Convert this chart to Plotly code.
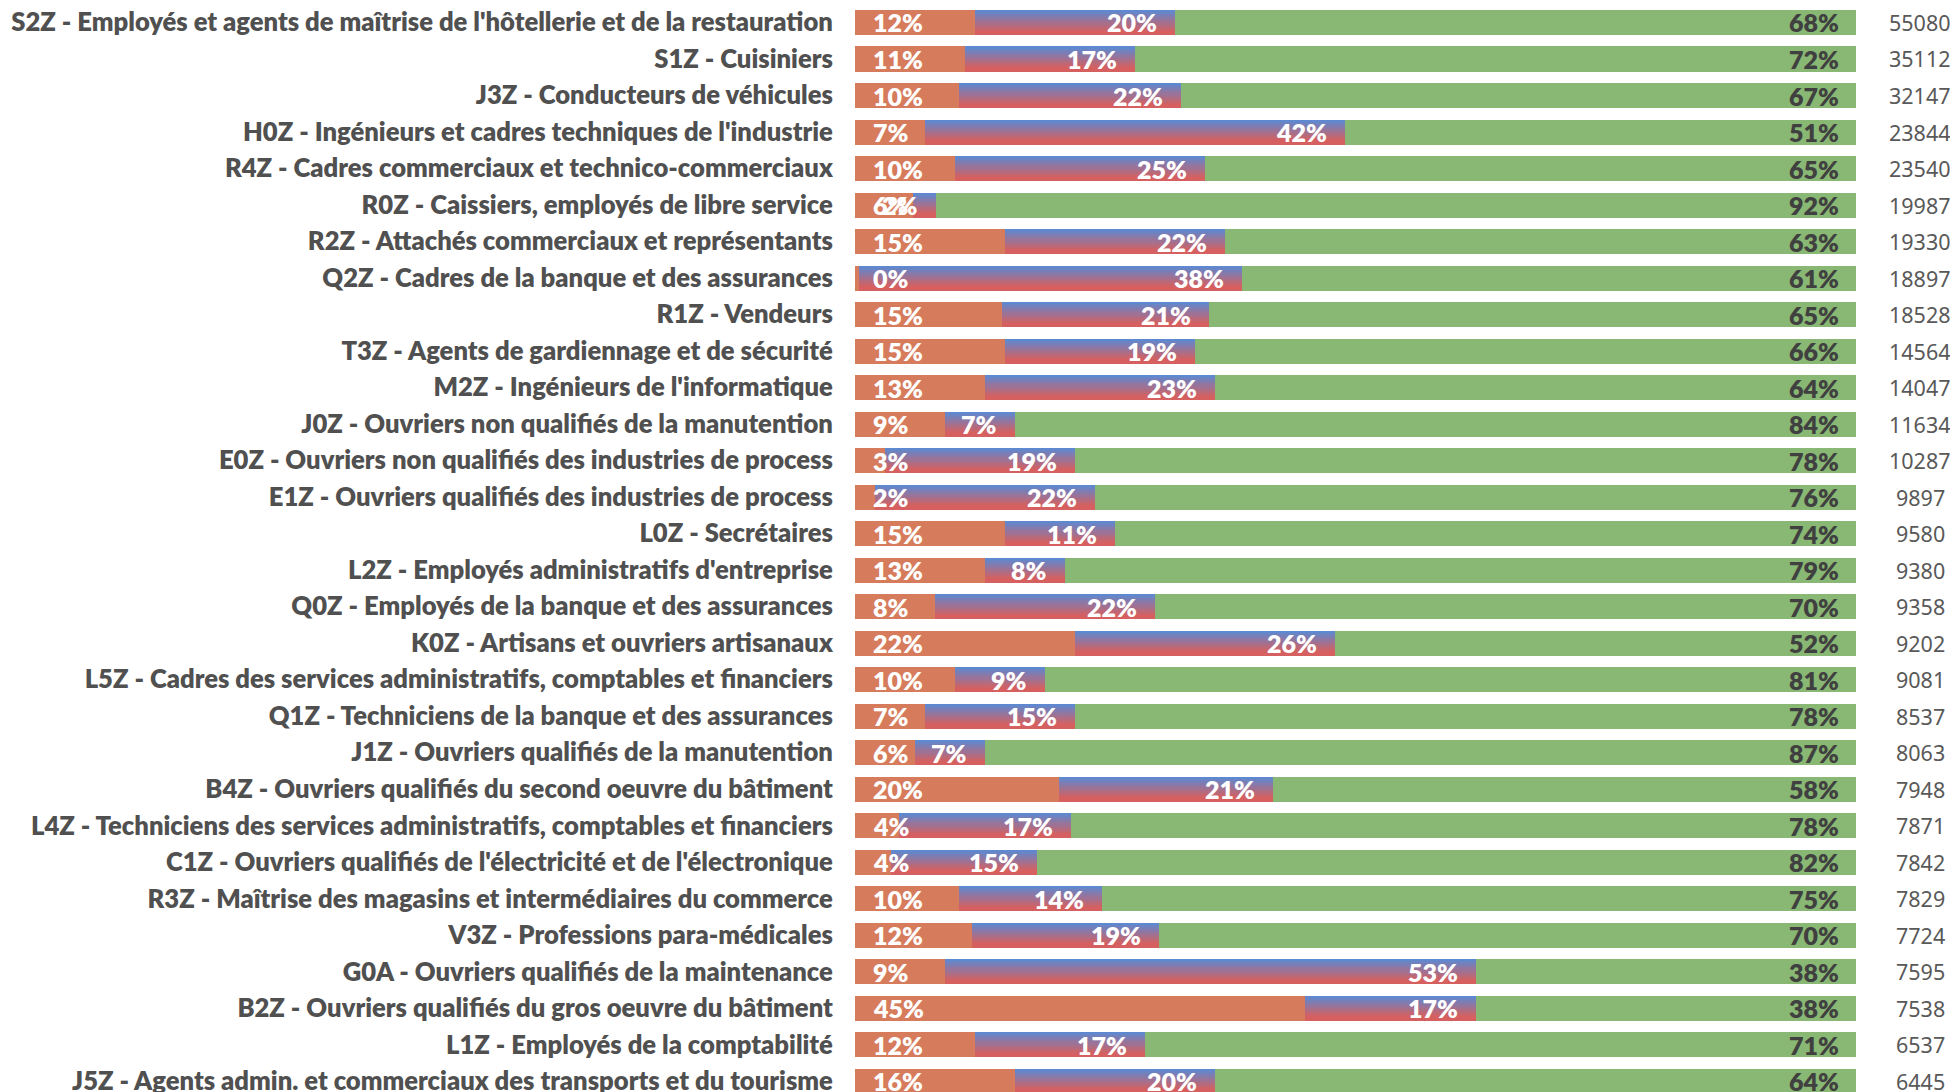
import plotly.graph_objects as go

labels = [
    "S2Z - Employés et agents de maîtrise de l'hôtellerie et de la restauration",
    "S1Z - Cuisiniers",
    "J3Z - Conducteurs de véhicules",
    "H0Z - Ingénieurs et cadres techniques de l'industrie",
    "R4Z - Cadres commerciaux et technico-commerciaux",
    "R0Z - Caissiers, employés de libre service",
    "R2Z - Attachés commerciaux et représentants",
    "Q2Z - Cadres de la banque et des assurances",
    "R1Z - Vendeurs",
    "T3Z - Agents de gardiennage et de sécurité",
    "M2Z - Ingénieurs de l'informatique",
    "J0Z - Ouvriers non qualifiés de la manutention",
    "E0Z - Ouvriers non qualifiés des industries de process",
    "E1Z - Ouvriers qualifiés des industries de process",
    "L0Z - Secrétaires",
    "L2Z - Employés administratifs d'entreprise",
    "Q0Z - Employés de la banque et des assurances",
    "K0Z - Artisans et ouvriers artisanaux",
    "L5Z - Cadres des services administratifs, comptables et financiers",
    "Q1Z - Techniciens de la banque et des assurances",
    "J1Z - Ouvriers qualifiés de la manutention",
    "B4Z - Ouvriers qualifiés du second oeuvre du bâtiment",
    "L4Z - Techniciens des services administratifs, comptables et financiers",
    "C1Z - Ouvriers qualifiés de l'électricité et de l'électronique",
    "R3Z - Maîtrise des magasins et intermédiaires du commerce",
    "V3Z - Professions para-médicales",
    "G0A - Ouvriers qualifiés de la maintenance",
    "B2Z - Ouvriers qualifiés du gros oeuvre du bâtiment",
    "L1Z - Employés de la comptabilité",
    "J5Z - Agents admin. et commerciaux des transports et du tourisme",
]

# percentages (share of the three groups, sum = 100)
orange = [12, 11, 10.35, 7, 10, 5.8, 15, 0.4, 14.7, 15, 13, 9, 3, 2, 15,
          13, 8, 22, 10, 7, 6, 20.4, 4.4, 3.6, 10.4, 11.7, 9, 45, 12, 16]
middle = [20, 17, 22.25, 42, 25, 2.3, 22, 38.3, 20.7, 19, 23, 7, 19, 22, 11,
          8, 22, 26, 9, 15, 7, 21.4, 17.2, 14.6, 14.3, 18.7, 53, 17, 17, 20]
green = [68, 72, 67.4, 51, 65, 91.9, 63, 61.3, 64.6, 66, 64, 84, 78, 76, 74,
         79, 70, 52, 81, 78, 87, 58.2, 78.4, 81.8, 75.3, 69.6, 38, 38, 71, 64]
totals = [55080, 35112, 32147, 23844, 23540, 19987, 19330, 18897, 18528, 14564,
          14047, 11634, 10287, 9897, 9580, 9380, 9358, 9202, 9081, 8537,
          8063, 7948, 7871, 7842, 7829, 7724, 7595, 7538, 6537, 6445]

n = len(labels)
ypos = list(range(n))

ORANGE = "#d67c5c"
GREEN = "#88b874"
BAR_H = 0.685
LABEL_FONT = "Lato"

# gradient stops (top -> bottom) for the middle segment
grad_stops = [(0.0, (88, 138, 214)), (0.85, (214, 95, 95)), (1.0, (214, 95, 95))]


def grad_color(t):
    for (t0, c0), (t1, c1) in zip(grad_stops[:-1], grad_stops[1:]):
        if t0 <= t <= t1:
            f = (t - t0) / (t1 - t0)
            c = [round(a + (b - a) * f) for a, b in zip(c0, c1)]
            return "rgb(%d,%d,%d)" % tuple(c)
    return "rgb(%d,%d,%d)" % grad_stops[-1][1]


fig = go.Figure()

fig.add_trace(go.Bar(
    y=ypos, x=orange, base=[0] * n, orientation="h", width=BAR_H,
    marker=dict(color=ORANGE, line=dict(width=0)), hoverinfo="skip", showlegend=False,
))

N_STRIPS = 12
sw = BAR_H / N_STRIPS
for k in range(N_STRIPS):
    t = (k + 0.5) / N_STRIPS
    fig.add_trace(go.Bar(
        y=ypos, x=middle, base=orange, orientation="h",
        width=sw * 1.02, offset=-BAR_H / 2 + k * sw,
        marker=dict(color=grad_color(t), line=dict(width=0)),
        hoverinfo="skip", showlegend=False,
    ))

base_green = [o + m for o, m in zip(orange, middle)]
fig.add_trace(go.Bar(
    y=ypos, x=green, base=base_green, orientation="h", width=BAR_H,
    marker=dict(color=GREEN, line=dict(width=0)), hoverinfo="skip", showlegend=False,
))

annotations = []
pct_font_w = dict(family=LABEL_FONT, size=25, color="white", weight=800)
pct_font_d = dict(family=LABEL_FONT, size=25, color="#404040", weight=800)
for i in range(n):
    annotations.append(dict(x=0, y=i, xref="x", yref="y", text="%d%%" % round(orange[i]),
                            xanchor="left", yanchor="middle", xshift=16, showarrow=False,
                            font=pct_font_w))
    annotations.append(dict(x=orange[i] + middle[i], y=i, xref="x", yref="y",
                            text="%d%%" % round(middle[i]),
                            xanchor="right", yanchor="middle", xshift=-16, showarrow=False,
                            font=pct_font_w))
    annotations.append(dict(x=orange[i] + middle[i] + green[i], y=i, xref="x", yref="y",
                            text="%d%%" % round(green[i]),
                            xanchor="right", yanchor="middle", xshift=-15, showarrow=False,
                            font=pct_font_d))
    annotations.append(dict(x=1, y=i, xref="paper", yref="y", text=str(totals[i]),
                            xanchor="center", yanchor="middle", xshift=64, showarrow=False,
                            font=dict(family="Noto Sans, Open Sans", size=21.5, color="#595959")))

# the page places the figure 8px from the top-left corner of the window
fig.update_layout(
    width=1950, height=1084,
    margin=dict(l=847, r=102, t=0, b=0, pad=0, autoexpand=False),
    paper_bgcolor="white", plot_bgcolor="white",
    barmode="overlay", bargap=0,
    annotations=annotations,
    xaxis=dict(range=[0, 100], showgrid=False, zeroline=False, showticklabels=False,
               showline=False, fixedrange=True, automargin=False),
    yaxis=dict(range=[29.30, -0.397], tickvals=ypos, ticktext=labels,
               showgrid=False, zeroline=False, showline=False, automargin=False,
               ticks="outside", ticklen=16, tickcolor="rgba(0,0,0,0)",
               ticklabeloverflow="allow",
               tickfont=dict(family=LABEL_FONT, size=25.6, color="#505050", weight=800),
               fixedrange=True),
)

fig.write_html("out.html")
